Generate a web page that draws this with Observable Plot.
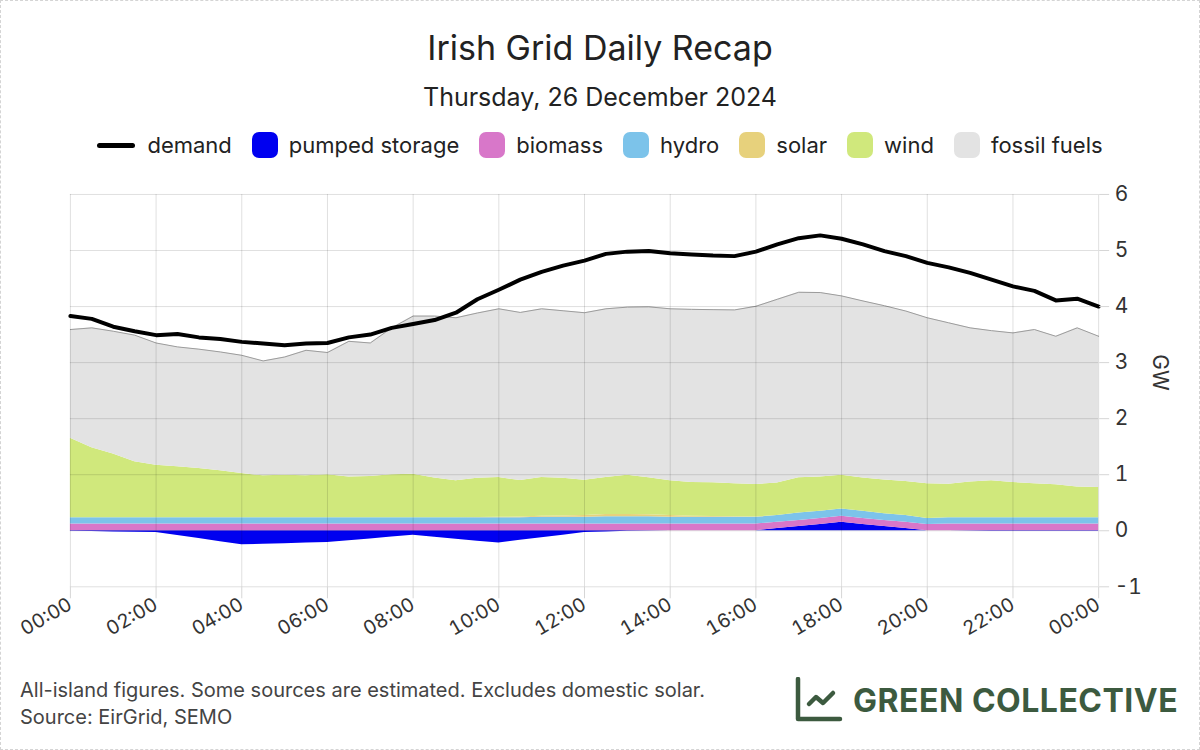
<!DOCTYPE html>
<html>
<head>
<meta charset="utf-8">
<script src="https://cdn.jsdelivr.net/npm/d3@7"></script>
<script src="https://cdn.jsdelivr.net/npm/@observablehq/plot@0.6"></script>
<style>
  html, body { margin: 0; padding: 0; background: #fff; }
  body { font-family: Inter, "Noto Sans", sans-serif; color: #222; }
  #page { position: relative; width: 1198px; height: 748px; border: 1px dashed #d4d4d4; overflow: hidden; }
  .abs { position: absolute; left: 0; width: 1198px; text-align: center; }
  #title { top: 27px; font-size: 34px; line-height: 40px; color: #222; }
  #subtitle { top: 81px; font-size: 25px; line-height: 30px; color: #222; }
  #legend { top: 129px; height: 30px; display: flex; justify-content: center; align-items: center; font-size: 22px; color: #222; }
  .item { display: flex; align-items: center; margin: 0 10px; }
  .sw { width: 26px; height: 26px; border-radius: 7px; margin-right: 11px; }
  .ln { width: 38px; height: 5px; border-radius: 3px; background: #000; margin-right: 12px; }
  #chart { position: absolute; left: 0; top: 175px; }
  #foot { position: absolute; left: 19px; top: 676px; font-size: 20px; line-height: 27px; color: #444; }
  #logo { position: absolute; left: 794px; top: 676px; display: flex; align-items: center; color: #3c5a3f; }
  #logo span { font-weight: 700; font-size: 32px; margin-left: 10px; letter-spacing: 0.5px; }
</style>
</head>
<body>
<div id="page">
  <div id="title" class="abs">Irish Grid Daily Recap</div>
  <div id="subtitle" class="abs">Thursday, 26 December 2024</div>
  <div id="legend" class="abs"></div>
  <div id="chart"></div>
  <div id="foot">All-island figures. Some sources are estimated. Excludes domestic solar.<br>Source: EirGrid, SEMO</div>
  <div id="logo">
    <svg width="48" height="46" viewBox="0 0 48 46">
      <path d="M3 2 V42 H45" fill="none" stroke="#3c5a3f" stroke-width="4.5" stroke-linecap="round" stroke-linejoin="round"/>
      <path d="M14 27 L21 20 L28 26 L38 16" fill="none" stroke="#3c5a3f" stroke-width="4.5" stroke-linecap="round" stroke-linejoin="round"/>
    </svg>
    <span>GREEN COLLECTIVE</span>
  </div>
</div>
<script>
// ---- data (GW, half-hourly from 00:00 to 24:00) ----
const sources = ["pumped storage", "biomass", "hydro", "solar", "wind", "fossil fuels"];
const colors  = ["#0000f0", "#d877c9", "#7cc3ea", "#e7d17c", "#d0e87c", "#e3e3e3"];

const demand = [3.83,3.78,3.64,3.56,3.49,3.51,3.45,3.42,3.37, 3.34,3.31,3.34,3.35,3.45,3.50,3.62,3.69,
  3.76,3.89,4.13,4.30,4.48,4.62,4.73,4.82, 4.94,4.98,4.99,4.95,4.93,4.91,4.90,4.98,
  5.11,5.22,5.27,5.21,5.11,4.99,4.90,4.78, 4.70,4.60,4.48,4.36,4.28,4.11,4.14,4.00];

const pumpedStorage = [-0.01,-0.015,-0.02,-0.025,-0.03,-0.085,-0.14,-0.195,-0.25,
  -0.24,-0.23,-0.22,-0.21,-0.18,-0.145,-0.11,-0.08,
  -0.115,-0.15,-0.185,-0.22,-0.17,-0.125,-0.08,-0.03,
  -0.02,-0.01,-0.005,0,0,0,0,0,
  0.04,0.075,0.11,0.15,0.11,0.075,0.04,0,
  0,-0.005,-0.01,-0.01,-0.01,-0.01,-0.01,-0.01];

const biomass = [0.12,0.12,0.12,0.12,0.12,0.12,0.12,0.12,0.12,
  0.12,0.12,0.12,0.12,0.12,0.12,0.12,0.12,
  0.12,0.12,0.12,0.12,0.12,0.12,0.12,0.12,
  0.12,0.12,0.12,0.12,0.12,0.12,0.12,0.12,
  0.11,0.11,0.11,0.11,0.11,0.11,0.11,0.11,
  0.12,0.12,0.12,0.12,0.12,0.12,0.12,0.12];

const hydro = [0.11,0.11,0.11,0.11,0.11,0.11,0.11,0.11,0.11,
  0.11,0.11,0.11,0.11,0.11,0.11,0.11,0.11,
  0.11,0.11,0.11,0.11,0.11,0.12,0.12,0.12,
  0.13,0.13,0.13,0.12,0.12,0.12,0.12,0.12,
  0.12,0.13,0.13,0.13,0.13,0.12,0.12,0.11,
  0.11,0.11,0.11,0.11,0.11,0.11,0.11,0.11];

const solar = [0,0,0,0,0,0,0,0,0,
  0,0,0,0,0,0,0,0,
  0,0,0.005,0.01,0.015,0.02,0.025,0.03,
  0.04,0.04,0.035,0.03,0.02,0.015,0.01,0.005,
  0,0,0,0,0,0,0,0,
  0,0,0,0,0,0,0,0];

const wind = [1.42,1.25,1.14,1.00,0.94,0.91,0.88,0.84,0.79,
  0.75,0.76,0.75,0.77,0.73,0.74,0.77,0.78,
  0.71,0.66,0.70,0.71,0.65,0.69,0.67,0.63,
  0.66,0.70,0.66,0.62,0.60,0.60,0.59,0.58,
  0.58,0.63,0.61,0.60,0.59,0.60,0.61,0.62,
  0.60,0.64,0.66,0.63,0.61,0.59,0.55,0.54];

const fossilFuels = [1.94,2.14,2.19,2.26,2.18,2.14,2.13,2.12,2.11,
  2.05,2.11,2.24,2.18,2.42,2.38,2.62,2.82,
  2.89,2.91,2.95,3.01,3.00,3.01,2.99,2.99,
  3.01,3.00,3.05,3.07,3.09,3.09,3.10,3.18,
  3.28,3.31,3.29,3.20,3.16,3.11,3.04,2.96,
  2.88,2.75,2.68,2.67,2.75,2.65,2.84,2.70];

const yTicks = [-1, 0, 1, 2, 3, 4, 5, 6];

// ---- build tables ----
const times = demand.map((_, i) => new Date(Date.UTC(2024, 11, 26, 0, 30 * i)));
const seriesValues = [pumpedStorage, biomass, hydro, solar, wind, fossilFuels];
const gen = [];
sources.forEach((s, k) => seriesValues[k].forEach((v, i) => gen.push({time: times[i], source: s, value: v})));
const demandData = demand.map((v, i) => ({time: times[i], value: v}));

// ---- legend ----
const legend = document.getElementById("legend");
legend.innerHTML = `<div class="item"><div class="ln"></div>demand</div>` +
  sources.map((s, k) => `<div class="item"><div class="sw" style="background:${colors[k]}"></div>${s}</div>`).join("");

// ---- chart ----
const start = times[0], end = times[times.length - 1];
const xTicks = d3.utcHour.every(2).range(start, d3.utcMinute.offset(end, 1));
const chart = Plot.plot({
  width: 1200,
  height: 490,
  marginLeft: 69,
  marginRight: 101,
  marginTop: 18,
  marginBottom: 79,
  style: {fontFamily: "Inter, 'Noto Sans', sans-serif", background: "transparent", color: "#333"},
  x: {type: "utc", domain: [start, end]},
  y: {domain: [-1, 6]},
  color: {domain: sources, range: colors},
  marks: [
    Plot.areaY(gen, Plot.stackY({x: "time", y: "value", z: "source", fill: "source", order: sources, curve: "linear"})),
    Plot.lineY(gen, Plot.stackY2({x: "time", y: "value", z: "source", order: sources,
      stroke: "#9c9c9c", strokeWidth: 1,
      strokeOpacity: d => d.source === "fossil fuels" ? 1 : 0})),
    Plot.gridY(yTicks, {stroke: "#000", strokeOpacity: 0.13}),
    Plot.gridX(xTicks, {stroke: "#000", strokeOpacity: 0.13}),
    Plot.lineY(demandData, {x: "time", y: "value", stroke: "#000", strokeWidth: 4, strokeLinejoin: "round"}),
    Plot.axisY(yTicks, {anchor: "right", tickSize: 10, tickPadding: 6, fontSize: 21, label: null,
      tickFormat: d => String(d), stroke: "#d6d6d6", fill: "#333"}),
    Plot.axisX(xTicks, {
      anchor: "bottom", tickSize: 12, tickPadding: 4, tickRotate: -30, fontSize: 19.5, label: null,
      tickFormat: d3.utcFormat("%H:%M"), stroke: "#d6d6d6", fill: "#333"}),
    Plot.text(["GW"], {frameAnchor: "right", dx: 61, rotate: 90, fontSize: 21, fill: "#333"})
  ]
});
document.getElementById("chart").appendChild(chart);
</script>
</body>
</html>
